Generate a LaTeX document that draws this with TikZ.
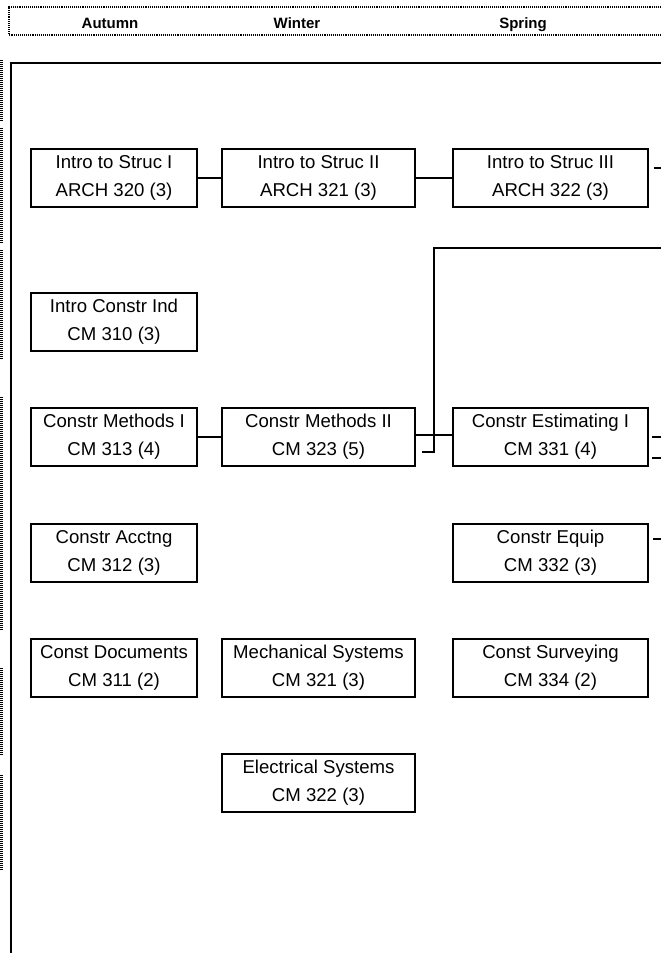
\documentclass[tikz,border=0pt]{standalone}
\usepackage{fontspec}
\setmainfont{Liberation Sans}
\begin{document}
\begin{tikzpicture}[x=1pt,y=-1pt,
  course/.style={draw,line width=1.9pt,rectangle,minimum height=58pt,inner sep=0pt,align=center,font=\fontsize{18.6}{28}\selectfont},
  cA/.style={course,minimum width=166pt},
  cB/.style={course,minimum width=193pt},
  cC/.style={course,minimum width=195pt},
  link/.style={line width=2.3pt},
  head/.style={anchor=base,inner sep=0pt,font=\fontsize{15}{18}\selectfont\bfseries},
  dotline/.style={line width=1.6pt,dash pattern=on 1.1pt off 1pt},
  sidedots/.style={line width=2.6pt,dash pattern=on 1pt off 1pt}]
\useasboundingbox (0,0) rectangle (661,953);
\fill[white] (0,0) rectangle (661,953);
% header
\draw[dotline] (661,7) -- (9,7) -- (9,35) -- (661,35);
\node[head] (hA) at (110,28) {Autumn};
\node[head] (hB) at (297,28) {Winter};
\node[head] (hC) at (523,28) {Spring};
% side dotted marks
\foreach \a/\b in {60/121,128/243,250/360,397/630,668/755,775/870}
  \draw[sidedots] (1.5,\a) -- (1.5,\b);
% main frame
\draw[line width=2.8pt] (11,953) -- (11,63) -- (661,63);
% courses
\node[cA] (s1) at (114,178) {Intro to Struc I\\ARCH 320 (3)};
\node[cB] (s2) at (318.5,178) {Intro to Struc II\\ARCH 321 (3)};
\node[cC] (s3) at (550.5,178) {Intro to Struc III\\ARCH 322 (3)};
\node[cA] (ci) at (114,322) {Intro Constr Ind\\CM 310 (3)};
\node[cA] (m1) at (114,437) {Constr Methods I\\CM 313 (4)};
\node[cB] (m2) at (318.5,437) {Constr Methods II\\CM 323 (5)};
\node[cC] (e1) at (550.5,437) {Constr Estimating I\\CM 331 (4)};
\node[cA] (ac) at (114,553) {Constr Acctng\\CM 312 (3)};
\node[cC] (eq) at (550.5,553) {Constr Equip\\CM 332 (3)};
\node[cA] (cd) at (114,668) {Const Documents\\CM 311 (2)};
\node[cB] (ms) at (318.5,668) {Mechanical Systems\\CM 321 (3)};
\node[cC] (sv) at (550.5,668) {Const Surveying\\CM 334 (2)};
\node[cB] (es) at (318.5,783) {Electrical Systems\\CM 322 (3)};
% connectors
\draw[link] (s1.east) -- (s2.west);
\draw[link] (s2.east) -- (s3.west);
\draw[link] (m1.east) -- (m2.west);
\draw[link] ([yshift=2pt]m2.east) -- ([yshift=2pt]e1.west);
\coordinate (s3o) at (661,168);
\draw[link] ([xshift=5pt]s3.east |- s3o) -- (s3o);
\coordinate (m2o) at (661,248);
\draw[link] ([xshift=6pt,yshift=-15pt]m2.east) -| (434,248) -- (m2o);
\coordinate (e1oa) at (661,437);
\coordinate (e1ob) at (661,458);
\draw[link] ([xshift=3pt]e1.east |- e1oa) -- (e1oa);
\draw[link] ([xshift=3pt]e1.east |- e1ob) -- (e1ob);
\coordinate (eqo) at (661,539);
\draw[link] ([xshift=4pt]eq.east |- eqo) -- (eqo);
\end{tikzpicture}
\end{document}
